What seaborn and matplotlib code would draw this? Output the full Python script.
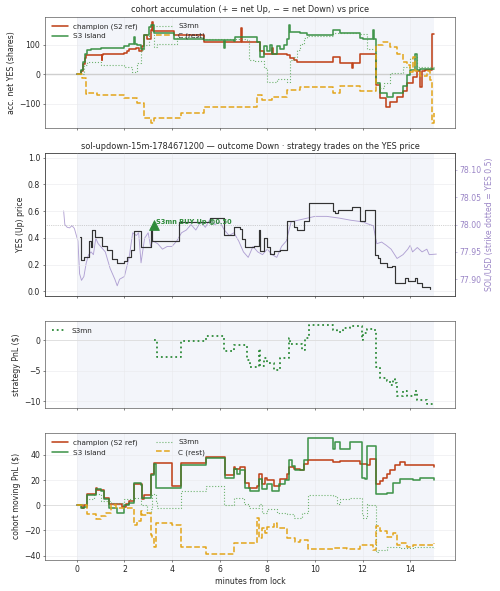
import matplotlib
matplotlib.use("Agg")
import matplotlib.pyplot as plt
import seaborn as sns

# ---- data (minutes from lock) ----
# panel 1: accumulated net YES shares per cohort
acc_champ_t = [0, 0.2, 0.26, 0.33, 0.4, 1.05, 1.08, 1.12, 1.98, 2.12, 2.2, 2.5, 2.6, 2.75, 2.82,
               2.95, 3.1, 3.15, 3.22, 4.08, 5.34, 6.9, 6.95, 7.7, 7.85, 8.2, 8.25, 8.83, 8.97, 9.11,
               9.25, 10.78, 11.06, 11.55, 11.6, 11.9, 12.57, 12.74, 12.99, 13.16, 13.44, 13.72, 13.85,
               14.13, 14.27, 14.41, 14.5, 14.62, 14.9, 15.0]
acc_champ = [0, 10, 35, 55, 65, 48, 65, 68, 72, 78, 85, 88, 80, 95, 133,
             120, 150, 178, 148, 132, 110, 155, 108, 80, 68, 88, 68, 64, 54, 48,
             43, 58, 37, 20, 37, 70, -36, -80, -112, -92, -75, -55, -30,
             -8, 10, -42, 12, 15, 135, 135]

acc_island_t = [0, 0.2, 0.26, 0.33, 0.42, 0.59, 1.01, 1.98, 2.19, 2.4, 2.45, 2.54, 2.68, 2.82, 3.03,
                3.1, 3.24, 4.08, 5.34, 6.17, 6.22, 6.59, 6.65, 7.57, 7.7, 7.85, 7.99, 8.1, 8.2, 8.41,
                8.55, 8.69, 8.83, 8.9, 8.97, 9.39, 9.66, 10.78, 11.06, 11.9, 12.04, 12.46, 12.5, 12.57,
                12.74, 13.02, 13.3, 13.72, 13.85, 13.99, 14.2, 14.27, 14.41, 14.83, 15.0]
acc_island = [0, 15, 40, 70, 82, 87, 90, 96, 104, 125, 104, 100, 87, 133, 160,
              166, 138, 119, 115, 90, 115, 112, 125, 110, 60, 95, 80, 100, 70, 95,
              85, 100, 120, 165, 142, 138, 133, 150, 138, 121, 118, 150, 118, -30,
              -64, -75, -64, -41, -2, 15, 70, 15, 18, 17, 17]

acc_s3mn_t = [0, 0.17, 0.3, 0.42, 1.01, 1.98, 2.19, 2.3, 2.4, 2.54, 2.68, 2.82, 3.03, 3.24, 3.38,
              4.22, 5.34, 7.15, 7.22, 7.5, 7.85, 7.99, 8.3, 8.4, 8.83, 8.97, 9.11, 9.25, 9.39, 9.53,
              9.66, 10.78, 11.9, 12.18, 12.57, 12.74, 12.9, 13.16, 13.44, 13.72, 13.99, 14.2, 14.27,
              14.55, 15.0]
acc_s3mn = [0, 0, 30, 43, 31, 26, 26, 9, 9, 37, 82, 99, 144, 93, 101,
            127, 118, 115, 48, 45, 20, -25, -25, -15, -25, 48, 60, 82, 104, 121,
            130, 138, 135, 87, -30, -47, -30, 3, 3, 26, 54, 60, 26,
            26, 26]

acc_rest_t = [0, 0.24, 0.38, 0.45, 0.87, 1.98, 2.54, 2.82, 3.1, 3.24, 4.36, 5.34, 7.57, 7.78, 8.2,
              8.83, 9.39, 10.78, 11.06, 11.9, 12.5, 12.57, 12.88, 13.16, 13.44, 13.72, 13.85, 13.99,
              14.13, 14.2, 14.41, 14.69, 14.83, 14.9, 15.0]
acc_rest = [0, -13, -67, -64, -70, -81, -98, -148, -165, -148, -131, -111, -70, -87, -75,
            -53, -44, -64, -40, -58, -58, 99, 110, 93, 70, 43, 31, 9,
            60, 10, -5, 10, -19, -165, -131]

# panel 2: YES (Up) price and SOL/USD
price_t = [0.14, 0.17, 0.2, 0.31, 0.52, 0.59, 0.66, 0.75, 0.8, 1.08, 1.29, 1.5, 1.7, 1.98, 2.12,
           2.26, 2.4, 2.68, 2.75, 3.1, 3.17, 3.31, 4.29, 5.6, 6.17, 6.6, 6.87, 6.94, 7.08, 7.43,
           7.64, 7.71, 7.85, 7.99, 8.13, 8.27, 8.55, 8.83, 9.11, 9.25, 9.53, 9.74, 10.78, 10.85,
           10.99, 11.14, 11.55, 11.9, 12.11, 12.25, 12.53, 12.67, 12.74, 13.02, 13.23, 13.37,
           13.72, 13.8, 13.9, 14.21, 14.3, 14.5, 14.84]
price = [0.41, 0.35, 0.235, 0.26, 0.38, 0.33, 0.46, 0.41, 0.41, 0.34, 0.31, 0.24, 0.21, 0.23, 0.26,
         0.31, 0.45, 0.33, 0.33, 0.48, 0.38, 0.38, 0.52, 0.55, 0.42, 0.48, 0.47, 0.39, 0.33, 0.34,
         0.46, 0.30, 0.40, 0.33, 0.28, 0.30, 0.31, 0.53, 0.48, 0.46, 0.53, 0.66, 0.60, 0.59,
         0.61, 0.61, 0.63, 0.53, 0.61, 0.61, 0.27, 0.25, 0.21, 0.18, 0.19, 0.06,
         0.06, 0.10, 0.08, 0.10, 0.06, 0.03, 0.02]

sol_t = [-0.55, -0.5, -0.4, -0.3, -0.2, -0.1, 0.05, 0.12, 0.2, 0.3, 0.4, 0.5, 0.6, 0.7, 0.8,
         0.9, 1.0, 1.2, 1.4, 1.6, 1.7, 1.8, 2.0, 2.2, 2.35, 2.5, 2.6, 2.7, 2.85, 3.0,
         3.1, 3.2, 3.4, 3.6, 3.8, 4.0, 4.2, 4.4, 4.6, 4.8, 5.0, 5.2, 5.4, 5.6, 5.8,
         6.0, 6.2, 6.4, 6.6, 6.8, 7.0, 7.2, 7.4, 7.6, 7.8, 8.0, 8.2, 8.4, 8.6, 8.8,
         9.0, 9.5, 10.0, 10.5, 11.0, 11.5, 12.0, 12.3, 12.45, 12.6, 12.8, 13.0, 13.2, 13.45,
         13.7, 13.9, 14.0, 14.1, 14.3, 14.5, 14.7, 14.8, 15.1]
sol = [78.025, 78.0, 77.995, 77.994, 77.998, 77.993, 77.97, 77.91, 77.898, 77.905, 77.93, 77.945, 77.95, 77.945, 77.975,
       77.965, 77.96, 77.95, 77.92, 77.9, 77.888, 77.9, 77.905, 77.94, 77.985, 77.98, 77.985, 77.93, 77.975, 77.985,
       77.96, 77.97, 77.965, 77.955, 77.96, 77.96, 77.97, 77.985, 77.99, 78.0, 77.99, 78.005, 77.995, 78.01, 78.0,
       78.005, 77.99, 77.98, 77.985, 77.97, 77.95, 77.94, 77.96, 77.95, 77.945, 77.955, 77.945, 77.94, 77.96, 77.97,
       78.005, 78.01, 78.015, 78.015, 78.012, 78.008, 78.005, 78.0, 77.998, 77.965, 77.968, 77.962, 77.955, 77.938,
       77.945, 77.955, 77.962, 77.95, 77.958, 77.95, 77.955, 77.945, 77.946]
strike = 78.0

trade_t = [3.24]
trade_p = [0.50]
trade_label = "S3mn BUY Up @0.50"

# panel 3: strategy PnL
pnl_t = [3.24, 3.35, 4.36, 5.41, 6.17, 6.59, 6.87, 7.15, 7.29, 7.57, 7.64, 7.71, 7.85, 7.99, 8.27,
         8.48, 8.55, 8.9, 8.97, 9.46, 9.6, 9.74, 10.78, 10.93, 11.2, 11.48, 11.97, 12.04, 12.18, 12.5,
         12.57, 12.74, 13.02, 13.16, 13.3, 13.37, 13.44, 13.72, 13.86, 14.2, 14.28, 14.7, 15.0]
pnl = [0, -2.7, -0.2, 0.7, -1.8, -0.8, -0.8, -3.3, -4.4, -4.4, -1.4, -4.2, -2.9, -3.8, -4.8,
       -4.8, -2.9, 0.3, -0.6, -1.6, 0.3, 2.5, 1.7, 1.4, 2.0, 2.3, 0.1, 1.1, 1.9, 1.6,
       -4.4, -6.1, -6.7, -7.3, -6.4, -7.0, -9.2, -8.3, -9.2, -8.3, -9.8, -10.4, -10.4]

# panel 4: cohort moving PnL
mov_champ_t = [0, 0.24, 0.31, 0.45, 0.8, 0.87, 1.15, 1.35, 1.91, 2.05, 2.19, 2.4, 2.75, 2.82, 2.89,
               3.13, 3.24, 4.01, 4.36, 5.41, 6.24, 6.59, 6.66, 6.87, 7.08, 7.22, 7.57, 7.64, 7.78, 7.92,
               7.99, 8.27, 8.55, 8.83, 8.9, 9.11, 9.39, 9.53, 9.73, 10.78, 11.06, 11.9, 12.18, 12.32,
               12.57, 12.74, 12.88, 13.02, 13.16, 13.37, 13.58, 13.78, 14.13, 14.41, 15.0]
mov_champ = [0, -2, 0, 9, 14, 12, 6, 1.3, -1.3, 1, 3.5, 17, 5, 8, 8,
             25, 33.7, 15.6, 33.7, 38.5, 23.7, 30, 29, 30, 18, 14, 15.6, 25, 17, 22,
             20, 15.6, 21, 25, 30.5, 29, 28, 33, 36, 34.5, 35.3, 33, 32, 36.7,
             17, 19, 22, 25, 27.8, 31.8, 34, 31.8, 32.3, 31.8, 30.5]

mov_island_t = [0, 0.17, 0.31, 0.45, 0.8, 1.01, 1.15, 1.35, 1.7, 1.98, 2.19, 2.4, 2.68, 2.75, 3.1,
                3.24, 3.31, 4.36, 5.41, 6.24, 6.59, 6.73, 6.87, 7.08, 7.29, 7.64, 7.78, 7.99, 8.2, 8.48,
                8.76, 8.9, 9.04, 9.18, 9.53, 9.73, 10.78, 10.85, 11.06, 11.48, 11.97, 12.11, 12.18,
                12.57, 13.02, 13.3, 13.58, 14.13, 14.41, 15.0]
mov_island = [0, -2, -1, 8, 13, 11, 5, -2, -6, 0, 2, 18, 16, 6, 24,
              33, 13.7, 32, 37.7, 22, 29, 25, 27.8, 14, 11.6, 21, 13, 17, 11.6, 17,
              19.7, 36, 31, 27.8, 36, 53, 44.7, 50, 44.7, 50, 22, 21, 46.6,
              9, 10, 17.8, 20.5, 19.7, 21.6, 19.7]

mov_s3mn_t = [0, 0.17, 0.45, 0.73, 1.01, 1.42, 1.98, 2.4, 2.68, 2.96, 3.1, 3.17, 3.31, 3.38, 4.36,
              5.41, 6.17, 6.59, 7.01, 7.22, 7.64, 7.78, 7.99, 8.41, 8.83, 9.11, 9.46, 9.73, 10.78,
              10.92, 11.06, 11.48, 11.97, 12.04, 12.18, 12.25, 12.57, 12.67, 13.02, 13.58, 14.13, 15.0]
mov_s3mn = [0, 1, 5, 9, 3.5, 2, 5, 6, 0, -6, -3, 9, 3, -2, 11.6,
            15.6, 0, 6, 1, -2, 1, -6, -3, -6, -7, -10, -6, 8, 7.5,
            1, 5, 6, -7, -10, 1, 0, -37, -35.6, -33, -33.7, -33, -34]

mov_rest_t = [0, 0.45, 0.8, 1.01, 1.22, 1.42, 1.63, 2.4, 2.54, 2.68, 2.75, 2.96, 3.1, 3.17, 3.24,
              3.31, 4.01, 4.36, 5.41, 6.59, 7.57, 7.64, 7.78, 7.92, 7.99, 8.27, 8.41, 8.83, 9.18,
              9.39, 9.73, 10.78, 11.34, 11.9, 12.46, 12.57, 12.74, 13.02, 13.3, 13.44, 13.58, 13.85,
              14.13, 14.41, 15.0]
mov_rest = [0, -7, -11, -8.6, -6, 0, -2, -15.4, -12.7, -4.6, -8, -6, -23.5, -26, -33,
            -14, -15.4, -33, -38.8, -29.6, -10, -26, -18, -22, -17, -14, -18, -26, -28.8,
            -27.5, -35, -34, -35, -31.5, -35.6, -16.7, -20.8, -24.8, -22, -31.5, -30, -33,
            -31.5, -31.5, -30]

C_CHAMP = "#c0441c"
C_ISLAND = "#2e8b3a"
C_S3MN = "#4ea34e"
C_REST = "#e3a51a"
C_SOL = "#9a85c6"
SHADE = "#f3f5fa"


def step(ax, t, v, **kw):
    sns.lineplot(x=t, y=v, ax=ax, drawstyle="steps-post", estimator=None, sort=False,
                 legend=False, **kw)


sns.set_style("ticks", {"axes.grid": True, "grid.color": "#e9e9ec", "axes.edgecolor": "#333333"})
plt.rcParams["font.family"] = ["DejaVu Sans"]
plt.rcParams.update({"font.size": 11, "axes.titlesize": 11.7, "axes.labelsize": 11.2,
                     "xtick.labelsize": 11.2, "ytick.labelsize": 11.2, "legend.fontsize": 10.5})

fig, axes = plt.subplots(4, 1, figsize=(10, 11.82), dpi=50, sharex=True,
                         gridspec_kw=dict(height_ratios=[0.189, 0.242, 0.147, 0.2155], hspace=0.212,
                                          left=0.09, right=0.91, top=0.972, bottom=0.0525))
ax1, ax2, ax3, ax4 = axes

for ax in (ax1, ax3, ax4):
    ax.axvspan(0, 15, color=SHADE, zorder=0, lw=0)

# ---- panel 1 ----
ax1.axhline(0, color="#cfcfcf", lw=2, zorder=1)
step(ax1, acc_champ_t, acc_champ, color=C_CHAMP, lw=2.3, label="champion (S2 ref)")
step(ax1, acc_island_t, acc_island, color=C_ISLAND, lw=2.3, alpha=0.9, label="S3 island")
step(ax1, acc_s3mn_t, acc_s3mn, color=C_S3MN, lw=1.6, linestyle=":", alpha=0.8, label="S3mn")
step(ax1, acc_rest_t, acc_rest, color=C_REST, lw=2.2, linestyle="--", label="C (rest)")
ax1.set_title("cohort accumulation (+ = net Up, \u2212 = net Down) vs price")
ax1.set_ylabel("acc. net YES (shares)")
ax1.legend(loc="upper left", ncol=2, frameon=False, handlelength=2.2, columnspacing=2.5)

# ---- panel 2 ----
axs = ax2.twinx()
ax2.set_zorder(axs.get_zorder() + 1)
ax2.patch.set_visible(False)
axs.axvspan(0, 15, color=SHADE, zorder=0, lw=0)
axs.grid(False)
sns.lineplot(x=sol_t, y=sol, ax=axs, color=C_SOL, lw=1.3, alpha=0.75, estimator=None, sort=False,
             legend=False)
ax2.axhline(0.5, color="#aaaaaa", lw=1, linestyle=":")
step(ax2, price_t, price, color="#333333", lw=1.7)
sns.scatterplot(x=trade_t, y=trade_p, ax=ax2, marker="^", s=200, color=C_ISLAND, edgecolor=C_ISLAND,
                zorder=5, legend=False)
ax2.annotate(trade_label, (trade_t[0], trade_p[0]), xytext=(3, 0), textcoords="offset points",
             fontsize=9.5, fontweight="bold", color=C_ISLAND, va="bottom")
ax2.set_ylim(-0.035, 1.035)
sol_per_unit = 0.2445
axs.set_ylim(strike + (-0.035 - 0.5) * sol_per_unit, strike + (1.035 - 0.5) * sol_per_unit)
axs.set_yticks([77.90, 77.95, 78.00, 78.05, 78.10])
axs.set_yticklabels([f"{v:.2f}" for v in [77.90, 77.95, 78.00, 78.05, 78.10]])
axs.tick_params(axis="y", colors=C_SOL)
axs.set_ylabel("SOL/USD (strike dotted = YES 0.5)", color=C_SOL)
ax2.set_yticks([0.0, 0.2, 0.4, 0.6, 0.8, 1.0])
ax2.set_ylabel("YES (Up) price")
ax2.set_title("sol-updown-15m-1784671200 \u2014 outcome Down \u00b7 strategy trades on the YES price")

# ---- panel 3 ----
ax3.axhline(0, color="#dddddd", lw=1.2, zorder=1)
step(ax3, pnl_t, pnl, color=C_ISLAND, lw=2.6, linestyle=":", label="S3mn")
ax3.set_ylabel("strategy PnL ($)")
ax3.legend(loc="upper left", frameon=False)

# ---- panel 4 ----
ax4.axhline(0, color="#dddddd", lw=1.2, zorder=1)
step(ax4, mov_champ_t, mov_champ, color=C_CHAMP, lw=2.3, label="champion (S2 ref)")
step(ax4, mov_island_t, mov_island, color=C_ISLAND, lw=2.3, alpha=0.9, label="S3 island")
step(ax4, mov_s3mn_t, mov_s3mn, color=C_S3MN, lw=1.6, linestyle=":", alpha=0.8, label="S3mn")
step(ax4, mov_rest_t, mov_rest, color=C_REST, lw=2.2, linestyle="--", label="C (rest)")
ax4.set_ylabel("cohort moving PnL ($)")
ax4.set_xlabel("minutes from lock")
ax4.set_xticks([0, 2, 4, 6, 8, 10, 12, 14])
ax4.legend(loc="upper left", ncol=2, frameon=False, handlelength=2.2, columnspacing=2.5)

fig.savefig("out.png", dpi=50)
